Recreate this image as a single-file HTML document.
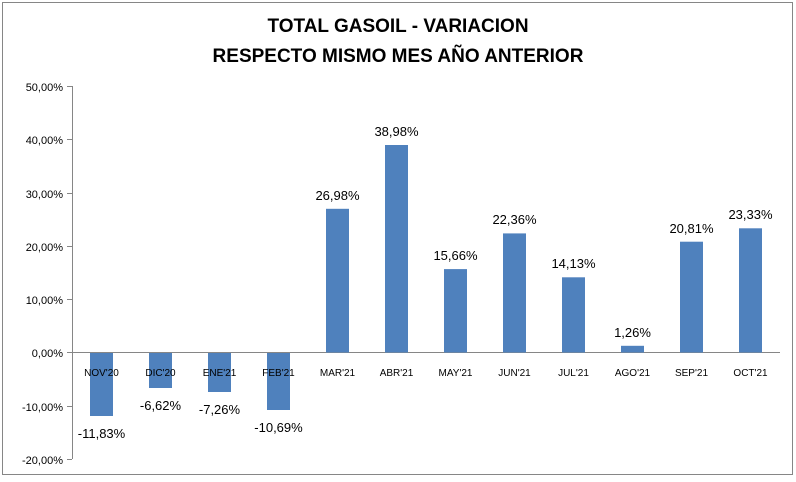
<!DOCTYPE html>
<html><head><style>body{margin:0;background:#fff}</style></head><body>
<svg width="796" height="477" xmlns="http://www.w3.org/2000/svg" font-family="Liberation Sans, sans-serif">
<rect x="0" y="0" width="796" height="477" fill="#fff"/>
<rect x="2.5" y="2.5" width="790" height="472" fill="none" stroke="#868686" stroke-width="1"/>
<text x="398" y="32" text-anchor="middle" font-size="19" font-weight="bold">TOTAL GASOIL - VARIACION</text>
<text x="398" y="62" text-anchor="middle" font-size="19" font-weight="bold">RESPECTO MISMO MES AÑO ANTERIOR</text>
<g stroke="#868686" stroke-width="1">
<line x1="72.5" y1="86" x2="72.5" y2="459"/>
<line x1="67" y1="86.5" x2="72" y2="86.5"/><line x1="67" y1="139.5" x2="72" y2="139.5"/>
<line x1="67" y1="193.5" x2="72" y2="193.5"/><line x1="67" y1="246.5" x2="72" y2="246.5"/>
<line x1="67" y1="299.5" x2="72" y2="299.5"/><line x1="67" y1="352.5" x2="780" y2="352.5"/>
<line x1="67" y1="406.5" x2="72" y2="406.5"/><line x1="67" y1="459.5" x2="72" y2="459.5"/>
</g>
<g font-size="11" text-anchor="end" fill="#000">
<text x="63" y="91">50,00%</text><text x="63" y="144">40,00%</text><text x="63" y="198">30,00%</text>
<text x="63" y="251">20,00%</text><text x="63" y="304">10,00%</text><text x="63" y="357">0,00%</text>
<text x="63" y="411">-10,00%</text><text x="63" y="464">-20,00%</text>
</g>
<g fill="#4f81bd">
<rect x="90" y="353" width="23" height="63"/>
<rect x="149" y="353" width="23" height="35"/>
<rect x="208" y="353" width="23" height="39"/>
<rect x="267" y="353" width="23" height="57"/>
<rect x="326" y="208.8" width="23" height="143.7"/>
<rect x="385" y="145" width="23" height="207.5"/>
<rect x="444" y="269.1" width="23" height="83.4"/>
<rect x="503" y="233.4" width="23" height="119.1"/>
<rect x="562" y="277.3" width="23" height="75.2"/>
<rect x="621" y="345.8" width="23" height="6.7"/>
<rect x="680" y="241.7" width="23" height="110.8"/>
<rect x="739" y="228.3" width="23" height="124.2"/>
</g>
<g font-size="10" text-anchor="middle" fill="#000">
<text x="101.5" y="376">NOV'20</text><text x="160.5" y="376">DIC'20</text><text x="219.5" y="376">ENE'21</text>
<text x="278.5" y="376">FEB'21</text><text x="337.5" y="376">MAR'21</text><text x="396.5" y="376">ABR'21</text>
<text x="455.5" y="376">MAY'21</text><text x="514.5" y="376">JUN'21</text><text x="573.5" y="376">JUL'21</text>
<text x="632.5" y="376">AGO'21</text><text x="691.5" y="376">SEP'21</text><text x="750.5" y="376">OCT'21</text>
</g>
<g font-size="13" text-anchor="middle" fill="#000">
<text x="101.5" y="438">-11,83%</text><text x="160.5" y="410">-6,62%</text><text x="219.5" y="414">-7,26%</text>
<text x="278.5" y="432">-10,69%</text><text x="337.5" y="200">26,98%</text><text x="396.5" y="136">38,98%</text>
<text x="455.5" y="260">15,66%</text><text x="514.5" y="224">22,36%</text><text x="573.5" y="268">14,13%</text>
<text x="632.5" y="337">1,26%</text><text x="691.5" y="233">20,81%</text><text x="750.5" y="219">23,33%</text>
</g>
</svg>
</body></html>
